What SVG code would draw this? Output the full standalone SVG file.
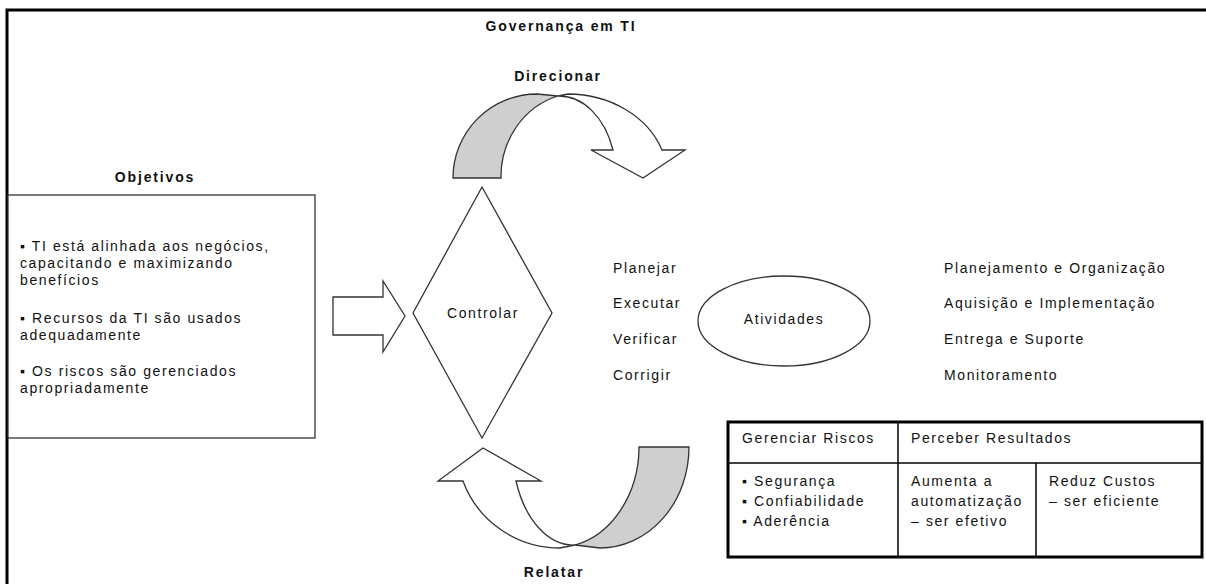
<svg xmlns="http://www.w3.org/2000/svg" width="1206" height="584" viewBox="0 0 1206 584">
  <style>
    .t { font-family: "Liberation Sans", Arial, sans-serif; font-size: 14px; fill: #111; letter-spacing: 1.6px; }
    .b { font-family: "Liberation Sans", Arial, sans-serif; font-size: 14px; font-weight: bold; fill: #111; letter-spacing: 1.85px; }
    .c { text-anchor: middle; }
    .shape { fill: #fff; stroke: #333; stroke-width: 1.3; }
    .back { fill: #cfcfcf; stroke: #333; stroke-width: 1.3; }
    .grid { fill: none; stroke: #000; stroke-width: 1.5; }
  </style>

  <rect width="1206" height="584" fill="#fff"/>
  <!-- outer frame -->
  <rect x="7" y="10" width="1220" height="600" fill="none" stroke="#000" stroke-width="3"/>

  <text class="b c" x="561" y="31">Governança em TI</text>

  <g id="objetivos">
    <text class="b c" x="155" y="182">Objetivos</text>
    <rect class="shape" x="8" y="195" width="307" height="243"/>
    <text class="t" x="20" y="251">▪ TI está alinhada aos negócios,</text>
    <text class="t" x="20" y="268">capacitando e maximizando</text>
    <text class="t" x="20" y="285">benefícios</text>
    <text class="t" x="20" y="323">▪ Recursos da TI são usados</text>
    <text class="t" x="20" y="340">adequadamente</text>
    <text class="t" x="20" y="376">▪ Os riscos são gerenciados</text>
    <text class="t" x="20" y="393">apropriadamente</text>
  </g>

  <g id="controlar">
    <polygon class="shape" points="482,187 552,313 482,438 413,313"/>
    <text class="t c" x="483" y="318">Controlar</text>
  </g>

  <g id="direcionar">
    <text class="b c" x="558" y="81">Direcionar</text>
    <path class="back" d="M453,178 A84,84 0 0 1 537,94 L558,96 A79,84 0 0 0 501,178 Z"/>
    <path class="shape" d="M558,96 L568,94 A100,84 0 0 1 662,150 L685,150 L643,178 L591,150 L613,150 A57,81 0 0 0 558,96 Z"/>
  </g>

  <g id="relatar">
    <path class="back" d="M639,447 L689,447 A89,101 0 0 1 600,548 L575,545 A83,101 0 0 0 639,447 Z"/>
    <path class="shape" d="M575,545 L560,548 A103,101 0 0 1 463,481 L438,481 L483,448 L541,481 L516,481 A61,98 0 0 0 575,545 Z"/>
    <text class="b c" x="554" y="577">Relatar</text>
  </g>

  <g id="ciclo">
    <text class="t" x="613" y="273">Planejar</text>
    <text class="t" x="613" y="308">Executar</text>
    <text class="t" x="613" y="344">Verificar</text>
    <text class="t" x="613" y="380">Corrigir</text>
  </g>

  <g id="atividades">
    <ellipse class="shape" cx="784" cy="321" rx="86" ry="45"/>
    <text class="t c" x="784" y="324">Atividades</text>
  </g>

  <g id="dominios">
    <text class="t" x="944" y="273">Planejamento e Organização</text>
    <text class="t" x="944" y="308">Aquisição e Implementação</text>
    <text class="t" x="944" y="344">Entrega e Suporte</text>
    <text class="t" x="944" y="380">Monitoramento</text>
  </g>

  <g id="resultados">
    <rect x="728" y="422" width="474" height="135" fill="#fff" stroke="#000" stroke-width="3"/>
    <line class="grid" x1="728" y1="463" x2="1202" y2="463"/>
    <line class="grid" x1="898" y1="422" x2="898" y2="557"/>
    <line class="grid" x1="1036" y1="463" x2="1036" y2="557"/>
    <text class="t" x="742" y="443">Gerenciar Riscos</text>
    <text class="t" x="911" y="443">Perceber Resultados</text>
    <text class="t" x="742" y="486">▪ Segurança</text>
    <text class="t" x="742" y="506">▪ Confiabilidade</text>
    <text class="t" x="742" y="526">▪ Aderência</text>
    <text class="t" x="911" y="486">Aumenta a</text>
    <text class="t" x="911" y="506">automatização</text>
    <text class="t" x="911" y="526">– ser efetivo</text>
    <text class="t" x="1049" y="486">Reduz Custos</text>
    <text class="t" x="1049" y="506">– ser eficiente</text>
  </g>

  <g id="connectors">
    <polygon class="shape" points="333,297 383,297 383,281 405,316 383,352 383,335 333,335"/>
  </g>
</svg>
